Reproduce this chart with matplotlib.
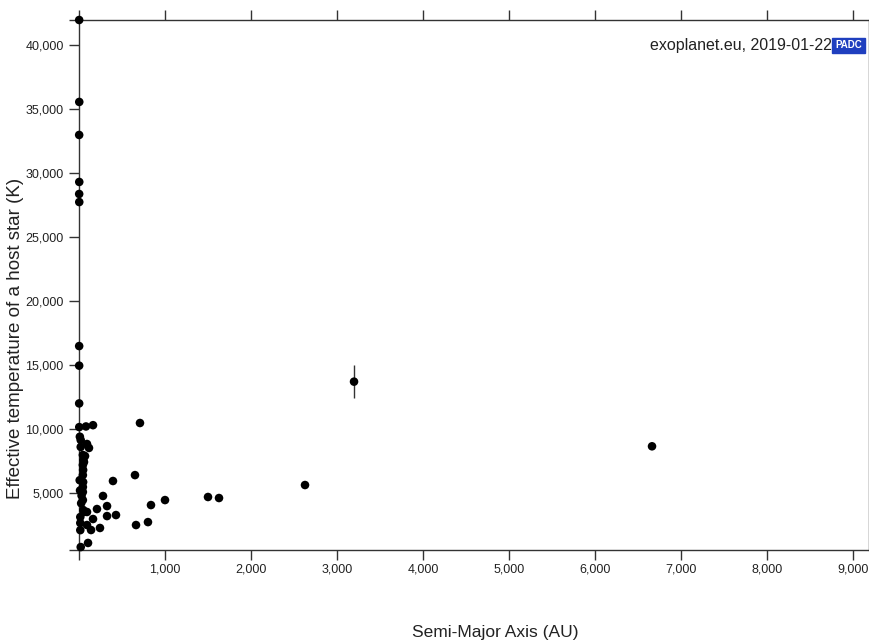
import matplotlib
matplotlib.use("Agg")
import matplotlib.pyplot as plt
import numpy as np

# semi-major axis (AU) and host star effective temperature (K)
sma = [
    2, 3, 2, 3, 2, 3, 2, 2, 2, 3,
    20, 81, 163, 709, 93, 116, 70, 58, 651, 395,
    2628, 279, 1500, 1628, 1000, 837, 326, 209, 93, 430,
    326, 163, 802, 663, 93, 244, 140, 105, 20,
    45, 50, 45, 48, 45, 48, 45, 45, 45, 50,
    60, 15, 15, 15, 20, 10, 8, 12, 30, 25,
    6663, 3198,
]
teff = [
    41950, 35550, 32970, 29300, 28360, 27730, 16480, 14950, 12000, 10150,
    9140, 10200, 10300, 10470, 8830, 8520, 7890, 7420, 6400, 5940,
    5625, 4770, 4690, 4610, 4450, 4060, 3980, 3750, 3520, 3280,
    3200, 2970, 2730, 2500, 2500, 2270, 2110, 1100, 780,
    7970, 7580, 7190, 6800, 6400, 5860, 5470, 5080, 4450, 3670,
    3520, 3125, 2660, 2100, 8600, 9400, 6000, 5200, 4800, 4200,
    8650, 13700,
]
teff_err = [0] * (len(sma) - 1) + [1300]

xticks = [0, 1000, 2000, 3000, 4000, 5000, 6000, 7000, 8000, 9000]
xticklabels = [''] + ['{:,}'.format(v) for v in xticks[1:]]
yticks = [5000, 10000, 15000, 20000, 25000, 30000, 35000, 40000]

xmin, xmax = 0, 9186
ymin, ymax = 550, 41950

plt.rcParams['font.family'] = ['Liberation Sans', 'DejaVu Sans']

fig = plt.figure(figsize=(8.7, 6.43), dpi=100)
ax = fig.add_axes([79 / 870, 93 / 643, 790 / 870, 530 / 643])

ax.errorbar(sma, teff, yerr=teff_err, fmt='none', ecolor='#333333',
            elinewidth=1, capsize=0, zorder=2)
ax.scatter(sma, teff, s=38, c='black', edgecolors='none', zorder=3,
           clip_on=False)

ax.set_xlim(xmin, xmax)
ax.set_ylim(ymin, ymax)

ax.set_xticks(xticks)
ax.set_xticklabels(xticklabels)
ax.set_yticks(yticks + [ymin, ymax])
ax.set_yticklabels(['{:,}'.format(v) for v in yticks] + ['', ''])

for side in ['left', 'bottom', 'top', 'right']:
    ax.spines[side].set_color('#333333')
    ax.spines[side].set_linewidth(1)

ax.tick_params(axis='x', which='both', direction='out', length=7, width=1,
               color='#333333', top=True, labeltop=False, labelsize=9,
               labelcolor='#222222', pad=3)
ax.tick_params(axis='y', direction='out', length=7, width=1,
               color='#333333', labelsize=9, labelcolor='#222222', pad=4)

fig.text(16 / 870, 1 - 338 / 643, 'Effective temperature of a host star (K)',
         rotation=90, ha='center', va='center', fontsize=13.5, color='#222222')
fig.text(495 / 870, 1 - 632 / 643, 'Semi-Major Axis (AU)',
         ha='center', va='center', fontsize=12.5, color='#222222')

ax.text(0.9535, 0.952, 'exoplanet.eu, 2019-01-22', transform=ax.transAxes,
        ha='right', va='center', fontsize=11.5, color='#222222')
ax.text(0.974, 0.952, 'PADC', transform=ax.transAxes, ha='center',
        va='center', fontsize=7, color='white', fontweight='bold',
        bbox=dict(boxstyle='square,pad=0.3', fc='#1f3fbf', ec='#1f3fbf'))

fig.savefig('out.png', dpi=100, facecolor='white')
